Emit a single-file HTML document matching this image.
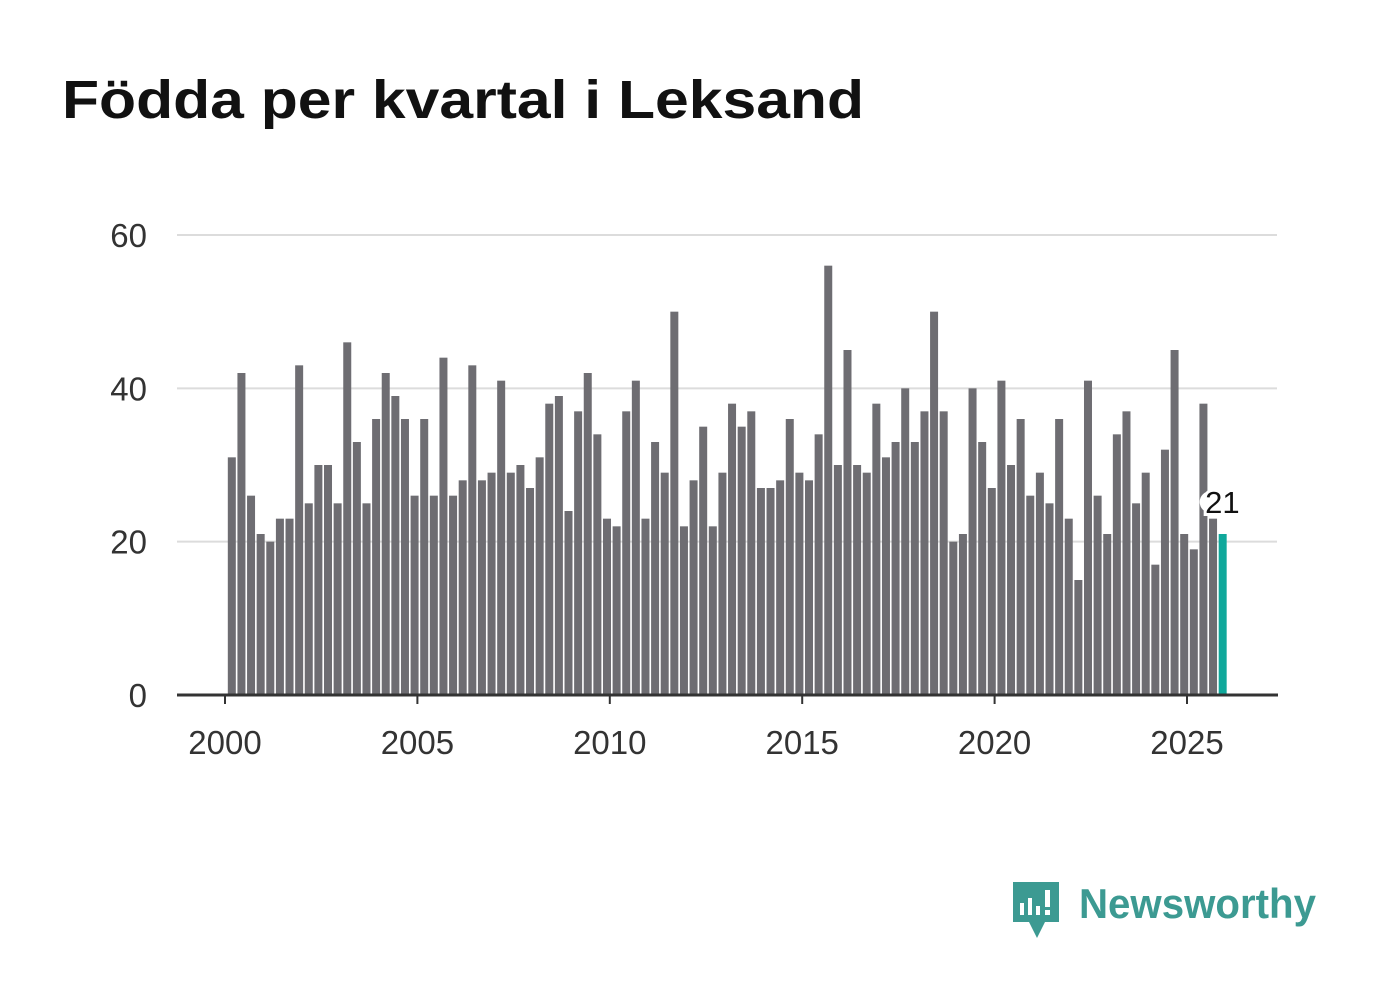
<!DOCTYPE html>
<html><head><meta charset="utf-8"><style>
body{margin:0;background:#fff;width:1382px;height:999px;overflow:hidden;font-family:"Liberation Sans",sans-serif}
</style></head><body>
<svg width="1382" height="999">
<text x="62" y="118" font-size="54" font-weight="bold" fill="#111" textLength="802" lengthAdjust="spacingAndGlyphs">Födda per kvartal i Leksand</text>
<g id="grid"></g><g id="bars"></g><g id="axis"></g>
<g>
<path d="M1013 882 h46 v40 h-14 l-8 16 l-8 -16 h-16 z" fill="#3c9a92"/>
<rect x="1020" y="903" width="4" height="12" fill="#fff"/><rect x="1028" y="898" width="4" height="17" fill="#fff"/><rect x="1036" y="906" width="4" height="9" fill="#fff"/><rect x="1045" y="890" width="5" height="17" fill="#fff"/><rect x="1045" y="910" width="5" height="5" fill="#fff"/>
<text x="1079" y="918" font-size="42" font-weight="bold" fill="#3c9a92" textLength="237" lengthAdjust="spacingAndGlyphs">Newsworthy</text>
</g>
</svg>
<script>
const values=[31,42,26,21,20,23,23,43,25,30,30,25,46,33,25,36,42,39,36,26,36,26,44,26,28,43,28,29,41,29,30,27,31,38,39,24,37,42,34,23,22,37,41,23,33,29,50,22,28,35,22,29,38,35,37,27,27,28,36,29,28,34,56,30,45,30,29,38,31,33,40,33,37,50,37,20,21,40,33,27,41,30,36,26,29,25,36,23,15,41,26,21,34,37,25,29,17,32,45,21,19,38,23,21];
const yTicks=[0,20,40,60];
const xTicks=[2000,2005,2010,2015,2020,2025];
const startYear=2000;
const NS="http://www.w3.org/2000/svg";
const y=v=>695-v*(460/60);
const x=yr=>225+(yr-2000)*38.48;
function mk(t,a,p){const e=document.createElementNS(NS,t);for(const k in a)e.setAttribute(k,a[k]);p.appendChild(e);return e;}
const grid=document.getElementById('grid'),bars=document.getElementById('bars'),axis=document.getElementById('axis');
yTicks.forEach(t=>{
 if(t>0){const l=mk('line',{x1:177,x2:1277,y1:y(t),y2:y(t),stroke:'#dcdcdc','stroke-width':2},grid);
 
 }
 const tx=mk('text',{x:147,y:y(t)+12,'font-size':33,fill:'#333','text-anchor':'end'},grid);tx.textContent=t;
 
 
});
values.forEach((v,i)=>{
 const cx=x(startYear+(i+0.5)/4)+2;
 const last=i===values.length-1;
 const r=mk('rect',{x:cx-4,y:y(v),width:8,height:695-y(v),fill:last?'#0fa89b':'#6e6d72'},bars);
 
 
 if(last){
  mk('circle',{cx:cx-12,cy:y(v)-32,r:11,fill:'#fff'},bars);
  const t=mk('text',{x:cx+17,y:y(v)-21,'font-size':31,fill:'#111','text-anchor':'end',stroke:'#fff','stroke-width':6,'paint-order':'stroke'},bars);t.textContent=v;
  
  
 }
});
mk('line',{x1:177,x2:1278,y1:695,y2:695,stroke:'#333','stroke-width':3},axis);
xTicks.forEach(t=>{
 mk('line',{x1:x(t),x2:x(t),y1:695,y2:704,stroke:'#333','stroke-width':2},axis);
 const tx=mk('text',{x:x(t),y:754,'font-size':33,fill:'#333','text-anchor':'middle'},axis);tx.textContent=t;
 
 
});
</script>
</body></html>
